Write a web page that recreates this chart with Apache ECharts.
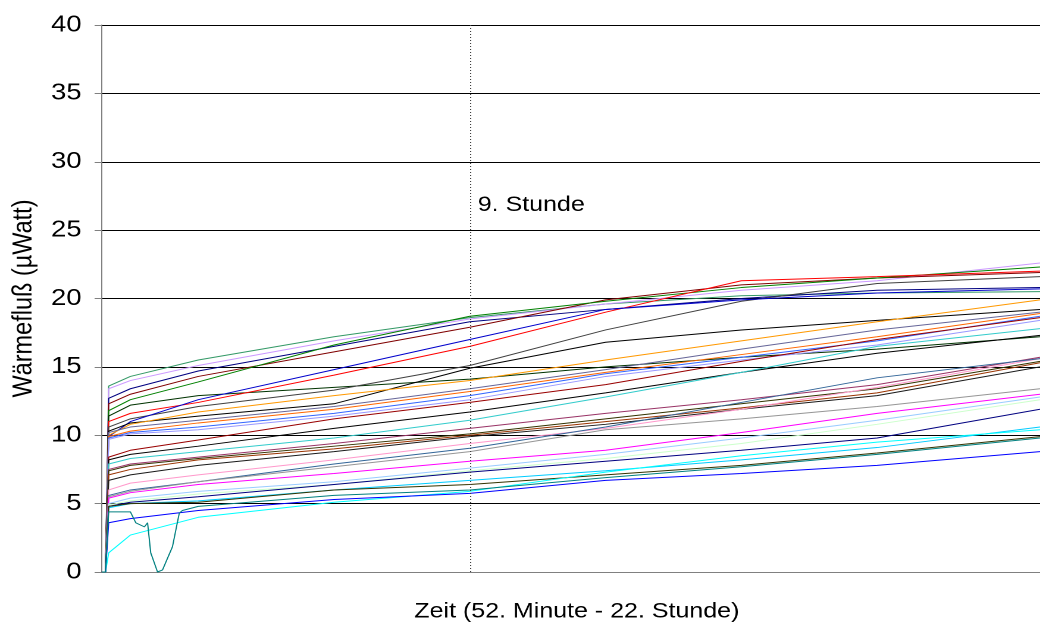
<!DOCTYPE html>
<html>
<head>
<meta charset="utf-8">
<script src="https://cdn.jsdelivr.net/npm/echarts@6/dist/echarts.min.js"></script>
<style>
  html, body { margin: 0; padding: 0; background: #fff; overflow: hidden; }
  /* the chart is laid out narrower and widened horizontally, as in the printed report */
  #chart { width: 874px; height: 627px; transform: scaleX(1.19); transform-origin: 0 0; }
</style>
</head>
<body>
<div id="chart"></div>
<script>
// Zeitpunkte in Stunden (52. Minute bis Ende der Messung)
const leadHours = [0.867, 0.95];
const hours = [1.02, 1.5, 3, 6, 9, 12, 15, 18, 21.6];

// Wärmefluß je Probe (µWatt) zu den Zeitpunkten in "hours"
const p01 = [13.6, 14.3, 15.5, 17.2, 18.6, 19.6, 20.2, 20.4, 20.5];
const p02 = [13.4, 14.0, 15.1, 16.9, 18.5, 19.6, 20.6, 21.3, 22.6];
const p03 = [12.7, 13.4, 14.7, 16.5, 18.3, 19.2, 20.0, 20.6, 20.8];
const p04 = [12.3, 13.0, 14.3, 16.1, 17.9, 19.9, 21.0, 21.5, 21.9];
const p05 = [11.8, 12.6, 13.9, 16.6, 18.7, 19.8, 20.8, 21.5, 22.3];
const p06 = [11.4, 12.2, 12.9, 13.5, 14.1, 15.0, 15.7, 16.3, 17.2];
const p07 = [11.0, 11.6, 12.4, 14.4, 16.5, 19.0, 21.3, 21.6, 22.0];
const p08 = [10.6, 11.2, 12.1, 13.3, 15.1, 17.7, 19.8, 21.1, 21.6];
const p09 = [9.9, 11.0, 12.6, 14.8, 17.0, 19.2, 19.9, 20.4, 20.7];
const p10 = [10.3, 10.9, 11.4, 12.3, 14.9, 16.8, 17.7, 18.4, 19.2];
const p11 = [10.0, 10.8, 11.7, 12.9, 14.0, 15.5, 16.9, 18.3, 19.9];
const p12 = [10.2, 10.6, 11.1, 12.1, 13.4, 14.8, 16.3, 17.7, 19.0];
const p13 = [9.9, 10.3, 10.9, 11.9, 13.2, 14.6, 15.9, 17.2, 18.9];
const p14 = [9.8, 10.2, 10.6, 11.6, 12.9, 14.5, 15.7, 16.9, 18.7];
const p15 = [9.7, 10.1, 10.4, 11.4, 12.6, 14.3, 15.5, 16.6, 18.4];
const p16 = [8.4, 8.9, 9.65, 11.2, 12.4, 13.7, 15.4, 17.0, 18.6];
const p17 = [8.2, 8.6, 9.2, 10.5, 11.7, 13.1, 14.6, 16.0, 17.3];
const p18 = [7.9, 8.3, 8.8, 9.8, 11.1, 12.8, 14.6, 16.5, 17.8];
const p19 = [7.5, 7.9, 8.4, 9.4, 10.5, 11.6, 12.6, 13.7, 15.7];
const p20 = [7.4, 7.8, 8.3, 9.2, 10.1, 11.2, 12.3, 13.4, 15.4];
const p21 = [7.1, 7.5, 8.2, 9.0, 10.0, 11.0, 12.0, 13.1, 15.3];
const p22 = [6.7, 7.1, 7.8, 8.8, 9.9, 10.8, 11.9, 12.9, 15.0];
const p23 = [6.0, 6.5, 7.1, 8.2, 9.4, 10.5, 11.9, 13.5, 15.6];
const p24 = [5.6, 6.0, 6.6, 7.9, 9.05, 10.6, 12.4, 14.2, 15.6];
const p25 = [5.5, 5.9, 6.6, 7.7, 8.8, 10.4, 11.2, 12.1, 13.4];
const p26 = [5.4, 5.8, 6.4, 7.2, 8.1, 8.9, 10.2, 11.6, 13.0];
const p27 = [5.0, 5.4, 5.9, 6.6, 7.6, 8.6, 9.8, 11.1, 12.8];
const p28 = [4.9, 5.2, 5.7, 6.4, 7.4, 8.3, 9.4, 10.8, 12.6];
const p29 = [4.8, 5.1, 5.5, 6.4, 7.3, 8.1, 8.9, 9.8, 11.9];
const p30 = [4.7, 5.0, 5.2, 6.0, 6.7, 7.4, 8.2, 9.1, 10.6];
const p31 = [4.8, 5.0, 5.1, 6.0, 6.4, 7.1, 7.8, 8.7, 9.9];
const p32 = [1.4, 2.7, 4.0, 5.1, 5.9, 7.3, 8.5, 9.5, 10.4];
const p33 = [3.6, 3.9, 4.5, 5.3, 5.75, 6.7, 7.2, 7.8, 8.8];

// Probe mit Einbruch zu Beginn (eigene Zeitpunkte)
const dipHours = [1.02, 1.5, 1.62, 1.81, 1.88, 1.95, 2.1, 2.21, 2.43, 2.58, 2.65, 3, 6, 9, 12, 15, 18, 21.6];
const dipFlow = [4.4, 4.4, 3.6, 3.3, 3.6, 1.4, 0, 0.15, 1.85, 4.3, 4.5, 4.8, 5.6, 6.0, 6.9, 7.7, 8.6, 9.8];

const probeColors = [
  '#339966', '#CC99FF', '#000080', '#800000', '#008000', '#003300', '#FF0000',
  '#404040', '#0000CC', '#000000', '#FF9900', '#666699', '#FF6600', '#3366FF',
  '#9999FF', '#990000', '#000000', '#33CCCC', '#993366', '#333300', '#993300',
  '#1A1A1A', '#FF99CC', '#336699', '#969696', '#FF00FF', '#99CCFF', '#CCFFCC',
  '#000080', '#00CCFF', '#333300', '#00FFFF', '#0000FF'
];
const probes = [p01, p02, p03, p04, p05, p06, p07, p08, p09, p10, p11, p12, p13, p14,
  p15, p16, p17, p18, p19, p20, p21, p22, p23, p24, p25, p26, p27, p28, p29, p30,
  p31, p32, p33];

const markHour = 9;
const markText = '9. Stunde';

const FONT = '"Liberation Sans", Arial, sans-serif';

function toPairs(xs, ys) {
  const out = leadHours.map(h => [h, 0]);
  xs.forEach((h, i) => out.push([h, ys[i]]));
  return out;
}

const series = probes.map((vals, i) => ({
  type: 'line',
  name: 'Probe ' + (i + 1),
  data: toPairs(hours, vals),
  showSymbol: false,
  symbol: 'none',
  lineStyle: { width: 1, color: probeColors[i] },
  itemStyle: { color: probeColors[i] },
  animation: false,
  z: 3
}));

series.push({
  type: 'line',
  name: 'Probe ' + (probes.length + 1),
  data: toPairs(dipHours, dipFlow),
  showSymbol: false,
  symbol: 'none',
  lineStyle: { width: 1, color: '#008080' },
  animation: false,
  z: 3,
  markLine: {
    silent: true,
    symbol: 'none',
    animation: false,
    label: { show: false },
    lineStyle: { type: [1, 2], color: '#404040', width: 1 },
    data: [{ xAxis: markHour }]
  }
});

const chart = echarts.init(document.getElementById('chart'), null, { renderer: 'canvas', devicePixelRatio: 2 });
chart.setOption({
  animation: false,
  backgroundColor: '#ffffff',
  grid: { left: 82.5, right: 0, top: 25, bottom: 55, containLabel: false },
  xAxis: {
    type: 'value',
    min: 0.867,
    max: 21.6,
    name: 'Zeit (52. Minute - 22. Stunde)',
    nameLocation: 'middle',
    nameGap: 29,
    nameTextStyle: { fontFamily: FONT, fontSize: 21, color: '#000', padding: [0, 0, 0, 10] },
    axisLine: { show: true, lineStyle: { color: '#808080', width: 1 } },
    axisTick: { show: false },
    axisLabel: { show: false },
    splitLine: { show: false }
  },
  yAxis: {
    type: 'value',
    min: 0,
    max: 40,
    interval: 5,
    name: 'Wärmefluß (µWatt)',
    nameLocation: 'middle',
    nameGap: 45,
    nameTextStyle: { fontFamily: FONT, fontSize: 23.5, color: '#000' },
    axisLine: { show: true, lineStyle: { color: '#808080', width: 1 } },
    axisTick: { show: true, length: 6, lineStyle: { color: '#808080' } },
    axisLabel: { fontFamily: FONT, fontSize: 23, color: '#000', margin: 17 },
    splitLine: { show: true, lineStyle: { color: '#000', width: 1 } }
  },
  series: series
});

const px = chart.convertToPixel({ xAxisIndex: 0 }, markHour);
const py = chart.convertToPixel({ yAxisIndex: 0 }, 26.7);
chart.setOption({
  graphic: [{
    type: 'text',
    left: px + 6.7,
    top: py - 12,
    style: { text: markText, font: '21px ' + FONT, fill: '#000' }
  }]
});
</script>
</body>
</html>
